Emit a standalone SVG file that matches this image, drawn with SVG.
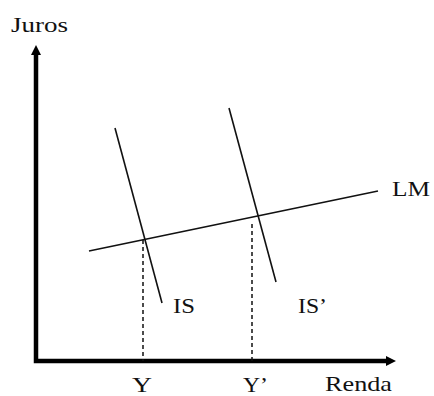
<svg xmlns="http://www.w3.org/2000/svg" width="434" height="396" viewBox="0 0 434 396">
<style>
text{font-family:"Liberation Serif","Times New Roman",serif;font-size:21px;fill:#111}
.ln{stroke:#111;stroke-width:1.6;fill:none}
.ds{stroke:#111;stroke-width:1.5;stroke-dasharray:4 3;fill:none}
.ax{stroke:#000;stroke-width:4.5;fill:none}
</style>
<rect width="434" height="396" fill="#fff"/>
<g id="axes">
<path class="ax" d="M36,52 V361 H388"/>
<polygon points="36,45 41,55 31,55" fill="#000"/>
<polygon points="396,361 386,356 386,366" fill="#000"/>
</g>
<g id="connectors">
<line class="ds" x1="143" y1="240" x2="143" y2="361"/>
<line class="ds" x1="252" y1="224" x2="252" y2="361"/>
</g>
<g id="LM"><line class="ln" x1="89" y1="251" x2="378" y2="191"/></g>
<g id="IS"><line class="ln" x1="115" y1="128" x2="162" y2="303"/></g>
<g id="IS2"><line class="ln" x1="229" y1="108" x2="276" y2="282"/></g>
<g id="labels">
<text x="11" y="32" textLength="57" lengthAdjust="spacingAndGlyphs">Juros</text>
<text x="325" y="391" textLength="67" lengthAdjust="spacingAndGlyphs">Renda</text>
<text x="132" y="392" textLength="20" lengthAdjust="spacingAndGlyphs">Y</text>
<text x="243" y="392" textLength="25" lengthAdjust="spacingAndGlyphs">Y’</text>
<text x="173" y="313" textLength="22" lengthAdjust="spacingAndGlyphs">IS</text>
<text x="298" y="313" textLength="29" lengthAdjust="spacingAndGlyphs">IS’</text>
<text x="392" y="196" textLength="38" lengthAdjust="spacingAndGlyphs">LM</text>
</g>
</svg>
